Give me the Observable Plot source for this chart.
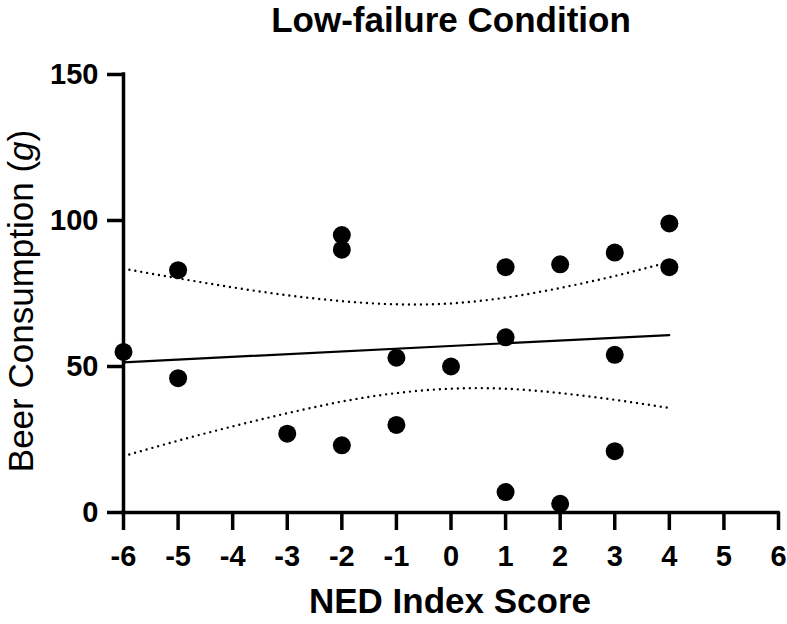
<!DOCTYPE html>
<html>
<head>
<meta charset="utf-8">
<script src="https://cdn.jsdelivr.net/npm/d3@7"></script>
<script src="https://cdn.jsdelivr.net/npm/@observablehq/plot@0.6"></script>
<style>
  html, body { margin: 0; padding: 0; background: #fff; }
  #chart { width: 787px; height: 624px; }
</style>
</head>
<body>
<div id="chart"></div>
<script>
// NED Index Score (x) and Beer Consumption in g (y)
const nedScore = [-6, -5, -5, -3, -2, -2, -2, -1, -1, 0, 1, 1, 1, 2, 2, 3, 3, 3, 4, 4];
const beerGrams = [55, 83, 46, 27, 95, 90, 23, 53, 30, 50, 84, 60, 7, 85, 3, 89, 54, 21, 99, 84];

// 95% confidence band (dotted curves)
const bandX     = [-6, -5, -4, -3, -2, -1, 0, 1, 2, 3, 4];
const bandUpper = [83.5, 80.2, 77.1, 74.4, 72.4, 71.3, 71.6, 73.6, 76.9, 81.0, 85.8];
const bandLower = [19.3, 24.6, 29.5, 34.0, 38.0, 40.9, 42.4, 42.4, 40.9, 38.6, 35.8];

// Tick labels
const xTickValues = [-6, -5, -4, -3, -2, -1, 0, 1, 2, 3, 4, 5, 6];
const yTickValues = [0, 50, 100, 150];

const titleText = "Low-failure Condition";
const xLabelText = "NED Index Score";

const points = nedScore.map((x, i) => ({x, y: beerGrams[i]}));
const upper = bandX.map((x, i) => ({x, y: bandUpper[i]}));
const lower = bandX.map((x, i) => ({x, y: bandLower[i]}));

const chart = Plot.plot({
  width: 787,
  height: 624,
  marginLeft: 123,
  marginRight: 9,
  marginTop: 74,
  marginBottom: 112,
  style: {fontFamily: "'Liberation Sans', Arial, sans-serif", background: "#fff", color: "#000", overflow: "visible"},
  x: {domain: [-6, 6]},
  y: {domain: [0, 150]},
  marks: [
    Plot.line(upper, {x: "x", y: "y", curve: "natural", stroke: "#000", strokeWidth: 2.4, strokeDasharray: "0,6", strokeLinecap: "round"}),
    Plot.line(lower, {x: "x", y: "y", curve: "natural", stroke: "#000", strokeWidth: 2.4, strokeDasharray: "0,6", strokeLinecap: "round"}),
    Plot.linearRegressionY(points, {x: "x", y: "y", stroke: "#000", strokeWidth: 2.2, ci: 0}),
    Plot.ruleX([-6], {y1: 0, y2: 150, stroke: "#000", strokeWidth: 3.5, strokeLinecap: "square"}),
    Plot.ruleY([0], {x1: -6, x2: 6, stroke: "#000", strokeWidth: 3.5, strokeLinecap: "square"}),
    Plot.axisX({ticks: xTickValues, tickFormat: d => String(d), tickSize: 18, tickPadding: 15,
      strokeWidth: 3.5, fontSize: 29, fontWeight: "bold", label: null}),
    Plot.axisY({ticks: yTickValues, tickFormat: d => String(d), tickSize: 16, tickPadding: 9,
      strokeWidth: 3.5, fontSize: 29, fontWeight: "bold", label: null}),
    Plot.dot(points, {x: "x", y: "y", r: 9, fill: "#000", stroke: "none"})
  ]
});

document.getElementById("chart").appendChild(chart);

const svg = d3.select(chart);
const font = "'Liberation Sans', Arial, sans-serif";

svg.append("text")
  .attr("x", 451).attr("y", 32)
  .attr("text-anchor", "middle")
  .attr("font-family", font).attr("font-size", 35).attr("font-weight", "bold")
  .attr("fill", "#000")
  .text(titleText);

svg.append("text")
  .attr("x", 450).attr("y", 613)
  .attr("text-anchor", "middle")
  .attr("font-family", font).attr("font-size", 35).attr("font-weight", "bold")
  .attr("fill", "#000")
  .text(xLabelText);

const yl = svg.append("text")
  .attr("transform", "translate(33,301) rotate(-90)")
  .attr("text-anchor", "middle")
  .attr("font-family", font).attr("font-size", 35)
  .attr("fill", "#000");
yl.append("tspan").text("Beer Consumption (");
yl.append("tspan").attr("font-style", "italic").text("g");
yl.append("tspan").text(")");
</script>
</body>
</html>
